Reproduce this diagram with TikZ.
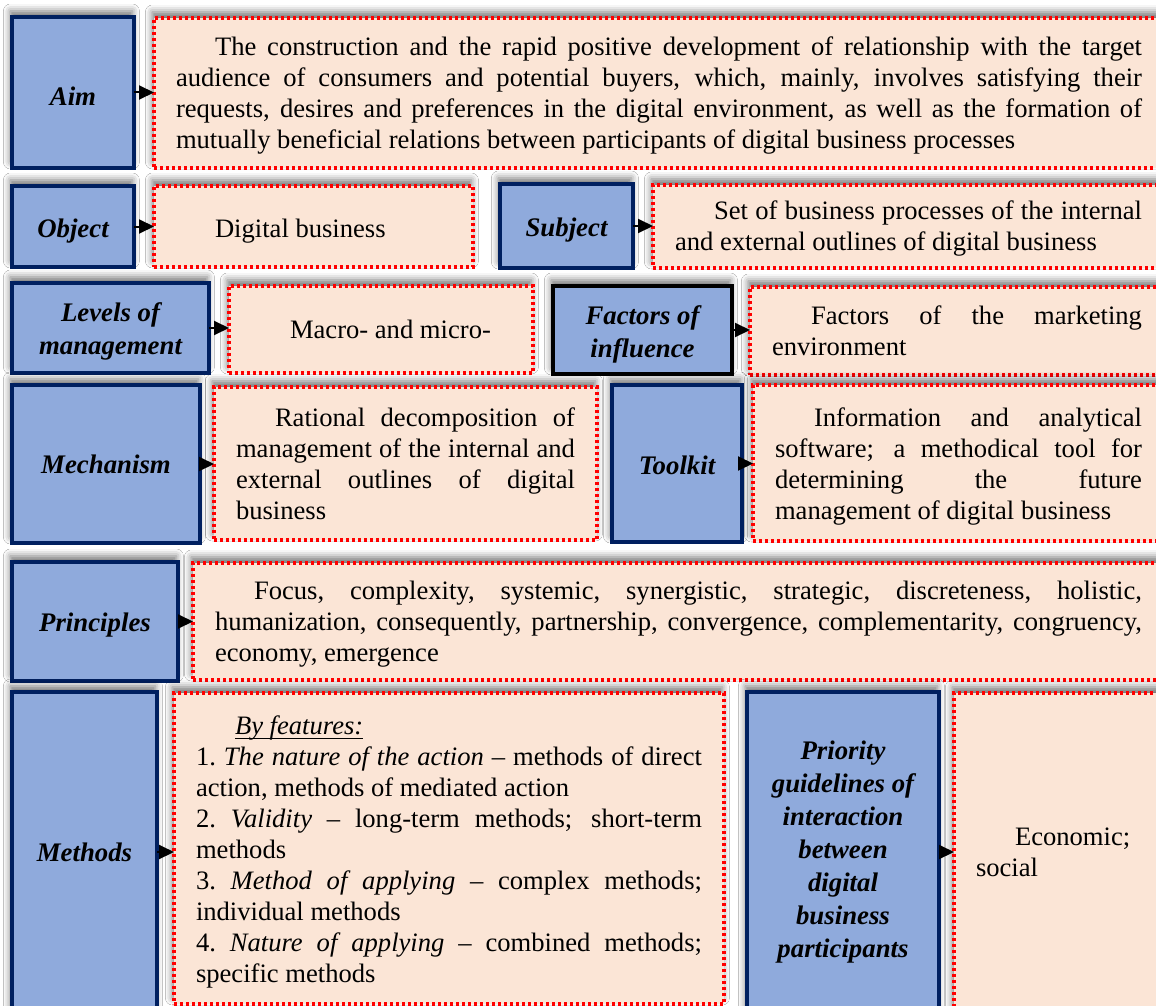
\documentclass[tikz,border=0pt]{standalone}
\usepackage{fontspec}
\setmainfont{Liberation Serif}
\usetikzlibrary{shadows.blur,arrows.meta}
\definecolor{bfill}{HTML}{8FAADC}
\definecolor{bdraw}{HTML}{002060}
\definecolor{rfill}{HTML}{FBE5D6}
\definecolor{rdraw}{HTML}{FF0000}
\tikzset{
  shad/.style={blur shadow={shadow xshift=-0.8pt,shadow yshift=3pt,shadow blur radius=3.5pt,shadow opacity=55}},
  bluebox/.style={shad,draw=bdraw,fill=bfill,line width=1.6pt,outer sep=0pt,
    font=\fontsize{13.4}{16.5}\selectfont\bfseries\itshape,align=center,inner sep=2pt},
  blackbox/.style={bluebox,draw=black},
  redbox/.style={shad,draw=rdraw,fill=rfill,line width=1.7pt,outer sep=0pt,
    dash pattern=on 1.7pt off 1.3pt,font=\fontsize{13.3}{15.5}\selectfont,
    align=justify,inner xsep=11pt,inner ysep=2pt,text width=\tw pt},
  arr/.style={line width=1pt,-{Triangle[length=7.5pt,width=7pt]}},
}
\newcommand\bx[7]{%
  \pgfmathsetmacro\bw{(#5-#3)*0.5}%
  \pgfmathsetmacro\bh{(#6-#4)*0.5}%
  \pgfmathsetmacro\tw{\bw-22}%
  \node[#1,anchor=north west,minimum width=\bw pt,minimum height=\bh pt] (#2) at (#3,#4) {#7};}
% first-line indent; optional strut height pushes the paragraph down a little
\newcommand\ind[1][0pt]{\noindent\rule{0pt}{#1}\hspace*{19.5pt}}
% lower a label without changing its size
\newcommand\lw[2][0pt]{\raisebox{-#1}[\height][\depth]{#2}}
\newcommand\ul[1]{\leavevmode\vtop{\hbox{#1}\kern-1.2pt\hrule height 0.6pt}}
\begin{document}
\begin{tikzpicture}[x=0.5pt,y=-0.5pt]
\useasboundingbox (0,0) rectangle (1156,1006);
\fill[white] (0,0) rectangle (1156,1006);
\clip (0,0) rectangle (1156,1006);
% row 1
\bx{bluebox}{aim}{12}{17}{134}{168}{\lw[2pt]{Aim}}
\bx{redbox}{aimr}{154}{18}{1164}{168}{\ind[12.1pt]The construction and the rapid positive development of relationship with the target\linebreak audience of consumers and potential buyers, which, mainly, involves satisfying their\linebreak requests, desires and preferences in the digital environment, as well as the formation of\linebreak mutually beneficial relations between participants of digital business processes}
% row 2
\bx{bluebox}{obj}{12}{186}{134}{267}{\lw[2.5pt]{Object}}
\bx{redbox}{objr}{154}{186}{473}{267}{\ind[14.1pt]Digital business}
\bx{bluebox}{subj}{500}{184}{633}{268}{\lw[2pt]{Subject}}
\bx{redbox}{subjr}{653}{185}{1164}{268}{\ind[11.6pt]Set of business processes of the internal\linebreak and external outlines of digital business}
% row 3
\bx{bluebox}{lev}{12}{283}{209}{373}{\lw[1.7pt]{\begin{tabular}{@{}c@{}}Levels of\\management\end{tabular}}}
\bx{redbox}{levr}{229}{286}{533}{373}{\ind Macro- and micro-}
\bx{blackbox}{fac}{553}{286}{732}{374}{\lw[2pt]{\begin{tabular}{@{}c@{}}Factors of\\influence\end{tabular}}}
\bx{redbox}{facr}{750}{287}{1164}{375}{\ind Factors of the marketing\linebreak environment}
% row 4
\bx{bluebox}{mech}{12}{385}{200}{543}{Mechanism}
\bx{redbox}{mechr}{214}{387}{597}{540}{\ind Rational decomposition of\linebreak management of the internal and\linebreak external outlines of digital\linebreak business}
\bx{bluebox}{tool}{612}{385}{742}{542}{\lw[1pt]{Toolkit}}
\bx{redbox}{toolr}{753}{385}{1164}{541}{\ind[12.6pt]Information and analytical\linebreak software; a methodical tool for\linebreak determining the future\linebreak management of digital business}
% row 5
\bx{bluebox}{princ}{12}{562}{178}{681}{\lw[2pt]{Principles}}
\bx{redbox}{princr}{193}{563}{1164}{680}{\ind[12.1pt]Focus, complexity, systemic, synergistic, strategic, discreteness, holistic,\linebreak humanization, consequently, partnership, convergence, complementarity, congruency,\linebreak economy, emergence}
% row 6
\bx{bluebox}{meth}{12}{692}{157}{1012}{Methods}
\bx{redbox}{methr}{174}{693}{724}{1004}{\ind[13.1pt]\ul{\textit{By features:}}\par
\noindent 1.~\textit{The nature of the action} – methods of direct\linebreak action, methods of mediated action\par
\noindent 2.~\textit{Validity} – long-term methods; short-term\linebreak methods\par
\noindent 3.~\textit{Method of applying} – complex methods;\linebreak individual methods\par
\noindent 4.~\textit{Nature of applying} – combined methods;\linebreak specific methods}
\bx{bluebox}{prio}{747}{692}{939}{1012}{Priority\\guidelines of\\interaction\\between\\digital\\business\\participants}
\bx{redbox}{prior}{954}{693}{1164}{1012}{\ind Economic; social}
% arrows
\draw[arr] (aim.east) -- (aim.east -| aimr.west);
\draw[arr] (obj.east) -- (obj.east -| objr.west);
\draw[arr] (subj.east) -- (subj.east -| subjr.west);
\draw[arr] (lev.east) -- (lev.east -| levr.west);
\draw[arr] (fac.east) -- (fac.east -| facr.west);
\draw[arr] (mech.east) -- (mech.east -| mechr.west);
\draw[arr] (tool.east) -- (tool.east -| toolr.west);
\draw[arr] (princ.east) -- (princ.east -| princr.west);
\draw[arr] (meth.east) -- (meth.east -| methr.west);
\draw[arr] (prio.east) -- (prio.east -| prior.west);
\end{tikzpicture}
\end{document}
